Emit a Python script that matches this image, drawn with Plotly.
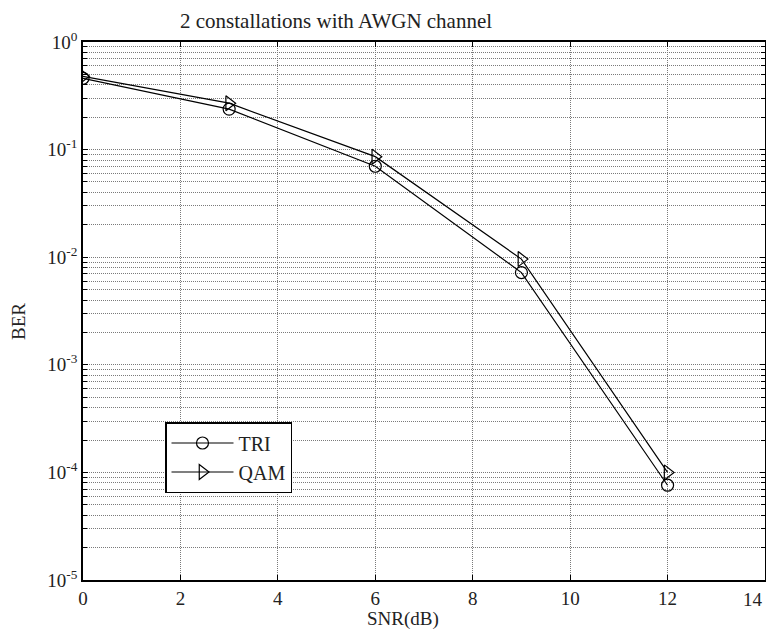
import plotly.graph_objects as go

snr = [0, 3, 6, 9, 12]
ber_tri = [0.46, 0.238, 0.070, 0.0072, 7.6e-5]
ber_qam = [0.48, 0.27, 0.086, 0.0096, 1.0e-4]

x_ticks = [0, 2, 4, 6, 8, 10, 12, 14]
x_tick_text = ["0", "2", "4", "6", "8", "10", "12", ""]
x_last_label = "14"
y_ticks = [1e-5, 1e-4, 1e-3, 1e-2, 1e-1, 1]
y_tick_text = ["10<sup>-5</sup>", "10<sup>-4</sup>", "10<sup>-3</sup>",
               "10<sup>-2</sup>", "10<sup>-1</sup>", "10<sup>0</sup>"]

FONT = "Liberation Serif"
TXT = "#222"
GRID = dict(gridcolor="#7a7a7a", griddash="1px,1px", gridwidth=1)

OFF = 8  # page body margin
W, H = 774 - 2 * OFF, 640 - 2 * OFF
# target plot area in window pixels: x 83..765, y 42..580
L, R, T, B = 83 - OFF, W - (765 - OFF), 42 - OFF, H - (580 - OFF)
PW, PH = W - L - R, H - T - B


def px(xw):
    return (xw - OFF - L) / PW


def py(yw):
    return (H - B - (yw - OFF)) / PH


fig = go.Figure()
fig.add_trace(go.Scatter(
    x=snr, y=ber_tri, name="TRI", mode="lines+markers",
    line=dict(color="black", width=1.2),
    marker=dict(symbol="circle-open", size=12, color="black", line=dict(width=1.2)),
))
fig.add_trace(go.Scatter(
    x=snr, y=ber_qam, name="QAM", mode="lines+markers",
    line=dict(color="black", width=1.2),
    marker=dict(symbol="triangle-right-open", size=13, color="black", line=dict(width=1.2)),
))

fig.update_xaxes(
    range=[0, 14], tickvals=x_ticks, ticktext=x_tick_text,
    ticks="inside", ticklen=5, tickcolor="black",
    showline=True, linecolor="black", linewidth=1.5, mirror="ticks",
    showgrid=True, **GRID, zeroline=False, automargin=False,
    tickfont=dict(family=FONT, size=19, color=TXT),
)
fig.update_yaxes(
    type="log", range=[-5, 0], tickvals=y_ticks, ticktext=y_tick_text,
    ticks="inside", ticklen=5, tickcolor="black",
    showline=True, linecolor="black", linewidth=1.5, mirror="ticks",
    showgrid=True, **GRID, zeroline=False, automargin=False,
    minor=dict(dtick="D1", ticks="inside", ticklen=4, tickcolor="black",
               showgrid=True, **GRID),
    tickfont=dict(family=FONT, size=19, color=TXT),
)

fig.update_layout(
    width=W, height=H,
    margin=dict(l=L, r=R, t=T, b=B),
    paper_bgcolor="white", plot_bgcolor="white",
    font=dict(family=FONT, size=19, color=TXT),
    showlegend=True,
    legend=dict(x=px(165), y=py(422), xanchor="left", yanchor="top",
                bgcolor="white", bordercolor="black", borderwidth=1.5,
                font=dict(family=FONT, size=20, color=TXT),
                tracegroupgap=2, itemwidth=62),
    annotations=[
        dict(text=x_last_label, x=x_ticks[-1], xref="x",
             y=py(599), yref="paper", xanchor="right", yanchor="middle",
             showarrow=False, font=dict(family=FONT, size=19, color=TXT)),
        dict(text="2 constallations with AWGN channel",
             x=px(336), y=py(21), xref="paper", yref="paper",
             xanchor="center", yanchor="middle", showarrow=False,
             font=dict(family=FONT, size=21, color=TXT)),
        dict(text="SNR(dB)",
             x=px(403), y=py(619), xref="paper", yref="paper",
             xanchor="center", yanchor="middle", showarrow=False,
             font=dict(family=FONT, size=19, color=TXT)),
        dict(text="BER", textangle=-90,
             x=px(18), y=py(322), xref="paper", yref="paper",
             xanchor="center", yanchor="middle", showarrow=False,
             font=dict(family=FONT, size=19, color=TXT)),
    ],
)

fig.write_html("out.html")
